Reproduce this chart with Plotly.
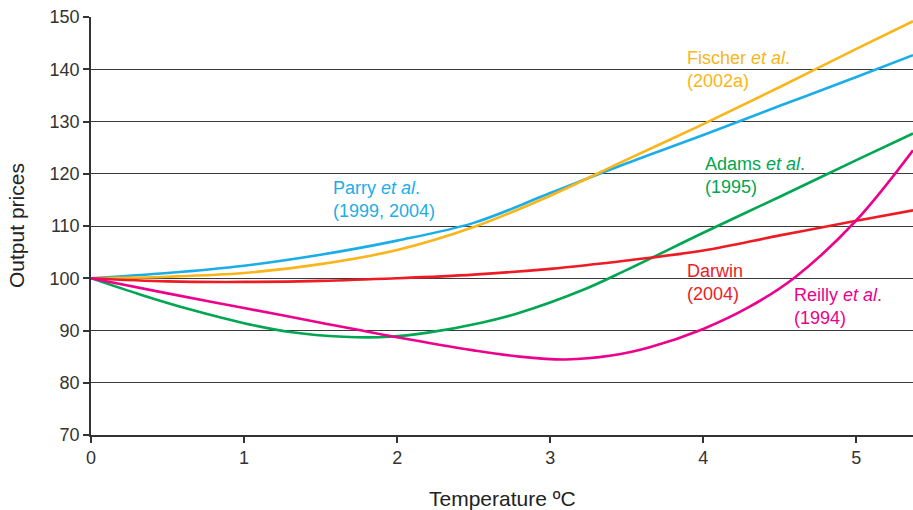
import plotly.graph_objects as go

# ---- data ----
parry_x = [0, 0.5, 1, 1.5, 2, 2.5, 3, 3.5, 4, 4.5, 5, 5.37]
parry_y = [100, 101.0, 102.4, 104.5, 107.2, 110.6, 116.3, 122.0, 127.4, 133.0, 138.5, 142.7]

fischer_x = [0, 0.5, 1, 1.5, 2, 2.5, 3, 3.5, 4, 4.5, 5, 5.37]
fischer_y = [100, 100.3, 101.0, 102.7, 105.4, 109.8, 115.8, 122.7, 129.5, 136.6, 143.9, 149.2]

adams_x = [0, 0.33, 0.65, 1.0, 1.3, 1.65, 1.95, 2.2, 2.55, 2.8, 3.2, 3.5, 4, 4.5, 5, 5.37]
adams_y = [100, 96.8, 94.0, 91.4, 89.7, 88.8, 88.8, 89.6, 91.5, 93.4, 97.6, 101.6, 108.7, 115.6, 122.6, 127.7]

darwin_x = [0, 0.5, 1, 1.5, 2, 2.5, 3, 3.5, 4, 4.5, 5, 5.37]
darwin_y = [100, 99.4, 99.3, 99.5, 100.0, 100.7, 101.8, 103.4, 105.3, 108.2, 111.0, 113.0]

reilly_x = [0, 0.5, 1, 1.5, 2, 2.5, 2.8, 3.1, 3.4, 3.65, 4, 4.3, 4.6, 5, 5.37]
reilly_y = [100, 97.1, 94.3, 91.5, 88.7, 86.2, 85.0, 84.45, 85.2, 86.8, 90.3, 94.5, 100.2, 111.1, 124.5]

x_ticks = [0, 1, 2, 3, 4, 5]
y_ticks = [70, 80, 90, 100, 110, 120, 130, 140, 150]

series = [
    ("Parry", parry_x, parry_y, "#1BAEE6"),
    ("Fischer", fischer_x, fischer_y, "#F9B51A"),
    ("Adams", adams_x, adams_y, "#00A651"),
    ("Darwin", darwin_x, darwin_y, "#ED1C24"),
    ("Reilly", reilly_x, reilly_y, "#EC008C"),
]

# label text, anchor (data coords), colour
labels = [
    ("Parry <i>et al</i>.<br>(1999, 2004)", 1.565, 115.1, "#1BAEE6"),
    ("Fischer <i>et al</i>.<br>(2002a)", 3.878, 139.9, "#F9B51A"),
    ("Adams <i>et al</i>.<br>(1995)", 3.995, 119.7, "#00A651"),
    ("Darwin<br>(2004)", 3.878, 99.25, "#ED1C24"),
    ("Reilly <i>et al</i>.<br>(1994)", 4.577, 94.5, "#EC008C"),
]

FONT = "Liberation Sans, Arial, sans-serif"

fig = go.Figure()
for name, xs, ys, col in series:
    fig.add_trace(go.Scatter(
        x=xs, y=ys, mode="lines", name=name,
        line=dict(color=col, width=2.6, shape="spline", smoothing=1.0),
        showlegend=False, hoverinfo="skip",
    ))

for text, lx, ly, col in labels:
    fig.add_annotation(
        x=lx, y=ly, xref="x", yref="y", text=text, showarrow=False,
        xanchor="left", yanchor="middle", align="left",
        font=dict(family=FONT, size=18, color=col),
    )

# axis titles
fig.add_annotation(
    x=0, y=0.5, xref="paper", yref="paper", text="Output prices",
    showarrow=False, textangle=-90, xanchor="center", yanchor="middle",
    xshift=-75, font=dict(family=FONT, size=21, color="#222"),
)
fig.add_annotation(
    x=0.5, y=0, xref="paper", yref="paper", text="Temperature ºC",
    showarrow=False, xanchor="center", yanchor="middle",
    yshift=-63, font=dict(family=FONT, size=21, color="#222"),
)

fig.update_layout(
    width=913, height=510,
    margin=dict(l=91, r=0, t=17, b=75),
    paper_bgcolor="white", plot_bgcolor="white",
    font=dict(family=FONT, size=18, color="#333"),
    xaxis=dict(
        range=[0, 5.37], tickvals=x_ticks, ticktext=[str(v) for v in x_ticks],
        showgrid=False, zeroline=False,
        showline=True, linecolor="#333", linewidth=1.5,
        ticks="outside", ticklen=6, tickwidth=1.5, tickcolor="#333",
        tickfont=dict(family=FONT, size=18, color="#333"),
    ),
    yaxis=dict(
        range=[70, 150], tickvals=y_ticks, ticktext=[str(v) for v in y_ticks],
        showgrid=True, gridcolor="#3a3a3a", gridwidth=1, zeroline=False,
        showline=True, linecolor="#333", linewidth=1.5,
        ticks="outside", ticklen=6, tickwidth=1.5, tickcolor="#333",
        tickfont=dict(family=FONT, size=18, color="#333"),
    ),
)

fig.write_html("out.html")
